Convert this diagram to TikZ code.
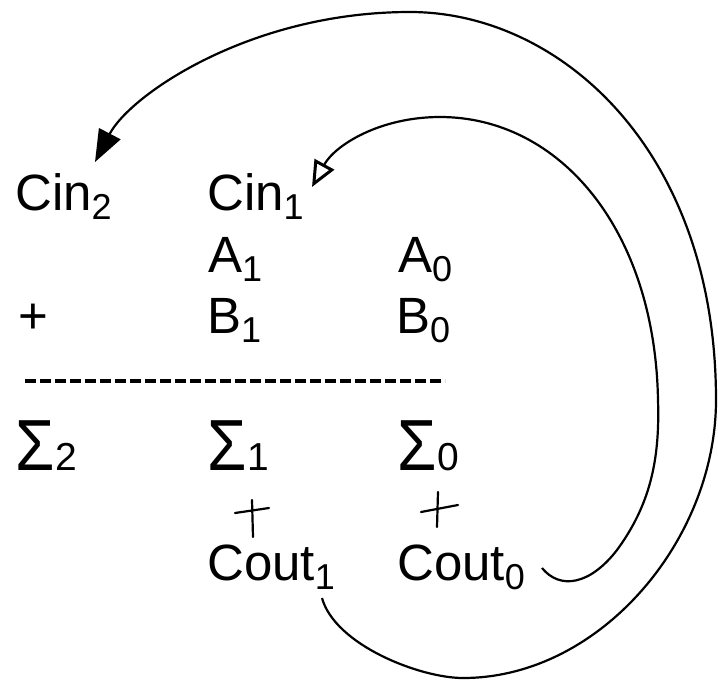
\documentclass[tikz,border=0pt]{standalone}
\usepackage{fontspec}
\setmainfont{Liberation Sans}
\usetikzlibrary{arrows.meta,calc}
\newcommand{\sbs}[1]{\raisebox{-9pt}{\fontsize{36}{36}\selectfont #1}}
\newcommand{\sgs}[1]{\scalebox{1.25}[1.42]{Σ}\kern1pt{\fontsize{39}{39}\selectfont #1}}
\begin{document}
\begin{tikzpicture}[x=1pt,y=-1pt,
  lbl/.style={anchor=base west,inner sep=0pt,font=\fontsize{51}{51}\selectfont},
  hand/.style={line width=2.2pt,line cap=round},
  conn/.style={line width=2.2pt}]
\useasboundingbox (0,0) rectangle (718,681);
\node[lbl] (cin2) at (15,210) {Cin\sbs{2}};
\node[lbl] (cin1) at (207,210) {Cin\sbs{1}};
\node[lbl] (a1) at (208,272) {A\sbs{1}};
\node[lbl] (a0) at (398,272) {A\sbs{0}};
\node[lbl] (plus) at (18,333) {+};
\node[lbl] (b1) at (207,333) {B\sbs{1}};
\node[lbl] (b0) at (396,333) {B\sbs{0}};
\coordinate (dl) at (25,381);
\coordinate (dr) at (445,381);
\draw[line width=3.6pt,dash pattern=on 11pt off 4pt] (dl) -- (dr);
\node[lbl] (s2) at (15,470) {\sgs{2}};
\node[lbl] (s1) at (207,470) {\sgs{1}};
\node[lbl] (s0) at (397,470) {\sgs{0}};
% hand-drawn plus marks
\coordinate (p1a) at (235,513); \coordinate (p1b) at (269,508);
\coordinate (p1c) at (252,500); \coordinate (p1d) at (253,537);
\draw[hand] (p1a) -- (p1b); \draw[hand] (p1c) -- (p1d);
\coordinate (p0a) at (421,512); \coordinate (p0b) at (458,505);
\coordinate (p0c) at (438,492); \coordinate (p0d) at (437,527);
\draw[hand] (p0a) -- (p0b); \draw[hand] (p0c) -- (p0d);
\node[lbl] (cout1) at (207,580) {Cout\sbs{1}};
\node[lbl] (cout0) at (397,580) {Cout\sbs{0}};
% connectors
\coordinate (o1) at (322,598);
\coordinate (o2) at (463,678);
\coordinate (o3) at (716,400);
\coordinate (o4) at (410,12);
\coordinate (i1) at (542,568);
\coordinate (i2) at (658,400);
\coordinate (i3) at (440,117);
\draw[conn,-{Triangle[length=32pt,width=24pt]}]
  (o1) .. controls (335,645) and (420,678) .. (o2)
  .. controls (600,678) and (716,540) .. (o3)
  .. controls (716,150) and (560,12) .. (o4)
  .. controls (250,12) and (130,95) .. (95,162);
\draw[conn,-{Triangle[open,length=26pt,width=22pt,line width=3pt]}]
  (i1) .. controls (560,590) and (590,585) .. (617,550)
  .. controls (650,505) and (660,460) .. (i2)
  .. controls (655,230) and (560,117) .. (i3)
  .. controls (380,117) and (335,145) .. (312,187);
\end{tikzpicture}
\end{document}
